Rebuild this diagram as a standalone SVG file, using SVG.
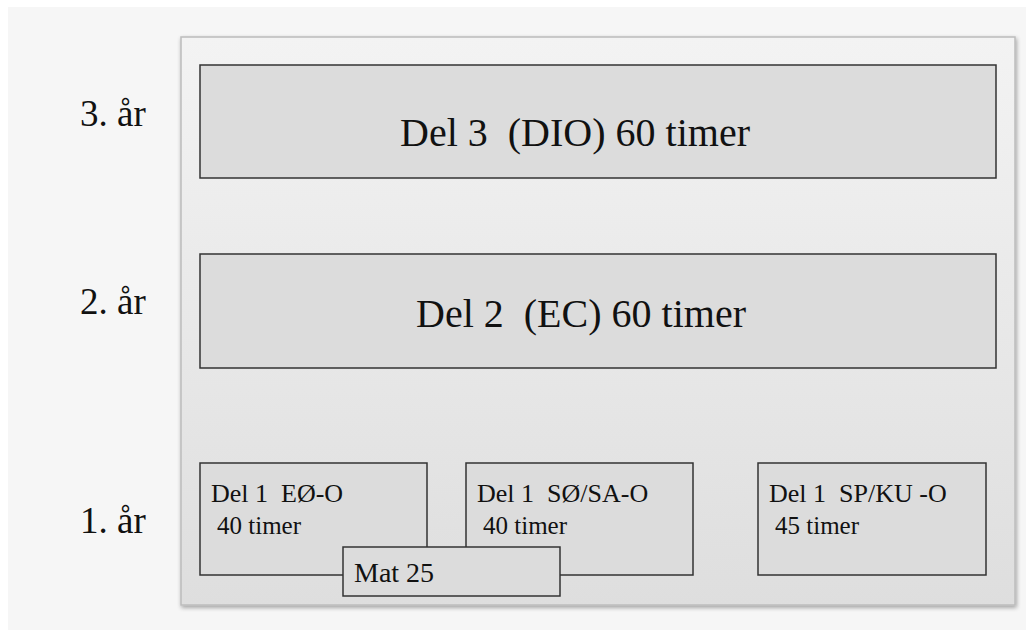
<svg xmlns="http://www.w3.org/2000/svg" width="1026" height="630" viewBox="0 0 1026 630">
<defs>
<linearGradient id="bg" x1="0" y1="0" x2="0" y2="1">
<stop offset="0" stop-color="#f3f3f3"/>
<stop offset="1" stop-color="#dedede"/>
</linearGradient>
<filter id="sh" x="-5%" y="-5%" width="110%" height="110%">
<feGaussianBlur in="SourceAlpha" stdDeviation="2"/>
<feOffset dx="1" dy="2"/>
<feComponentTransfer><feFuncA type="linear" slope="0.35"/></feComponentTransfer>
<feMerge><feMergeNode/><feMergeNode in="SourceGraphic"/></feMerge>
</filter>
</defs>
<rect x="0" y="0" width="1026" height="630" fill="#ffffff"/>
<rect x="8" y="7" width="1018" height="623" fill="#f6f6f6"/>
<rect id="container" x="181" y="37" width="834" height="568" fill="url(#bg)" stroke="#bcbcbc" stroke-width="1.5" filter="url(#sh)"/>
<g id="years" fill="#111" font-family="Liberation Serif" font-size="37">
<text x="80" y="126">3. år</text>
<text x="80" y="314">2. år</text>
<text x="80" y="533">1. år</text>
</g>
<g fill="#dcdcdc" stroke="#333" stroke-width="1.5" id="boxes-style">
<g id="del3">
<rect x="200" y="65" width="796" height="113"/>
<text stroke="none" font-family="Liberation Serif" fill="#111" font-size="40" x="575" y="146" text-anchor="middle" xml:space="preserve">Del 3  (DIO) 60 timer</text>
</g>
<g id="del2">
<rect x="200" y="254" width="796" height="114"/>
<text stroke="none" font-family="Liberation Serif" fill="#111" font-size="40" x="581" y="327" text-anchor="middle" xml:space="preserve">Del 2  (EC) 60 timer</text>
</g>
<g id="del1-eo">
<rect x="200" y="463" width="227" height="112"/>
<text stroke="none" font-family="Liberation Serif" fill="#111" font-size="26" x="211" y="502" xml:space="preserve">Del 1  EØ-O</text>
<text stroke="none" font-family="Liberation Serif" fill="#111" font-size="25" x="217" y="534">40 timer</text>
</g>
<g id="del1-so">
<rect x="466" y="463" width="227" height="112"/>
<text stroke="none" font-family="Liberation Serif" fill="#111" font-size="26" x="477" y="502" xml:space="preserve">Del 1  SØ/SA-O</text>
<text stroke="none" font-family="Liberation Serif" fill="#111" font-size="25" x="483" y="534">40 timer</text>
</g>
<g id="del1-sp">
<rect x="758" y="463" width="228" height="112"/>
<text stroke="none" font-family="Liberation Serif" fill="#111" font-size="26" x="769" y="502" xml:space="preserve">Del 1  SP/KU -O</text>
<text stroke="none" font-family="Liberation Serif" fill="#111" font-size="25" x="775" y="534">45 timer</text>
</g>
<g id="mat25">
<rect x="343" y="547" width="217" height="49"/>
<text stroke="none" font-family="Liberation Serif" fill="#111" font-size="28" x="354" y="582">Mat 25</text>
</g>
</g>
<g id="connectors"/>
</svg>
